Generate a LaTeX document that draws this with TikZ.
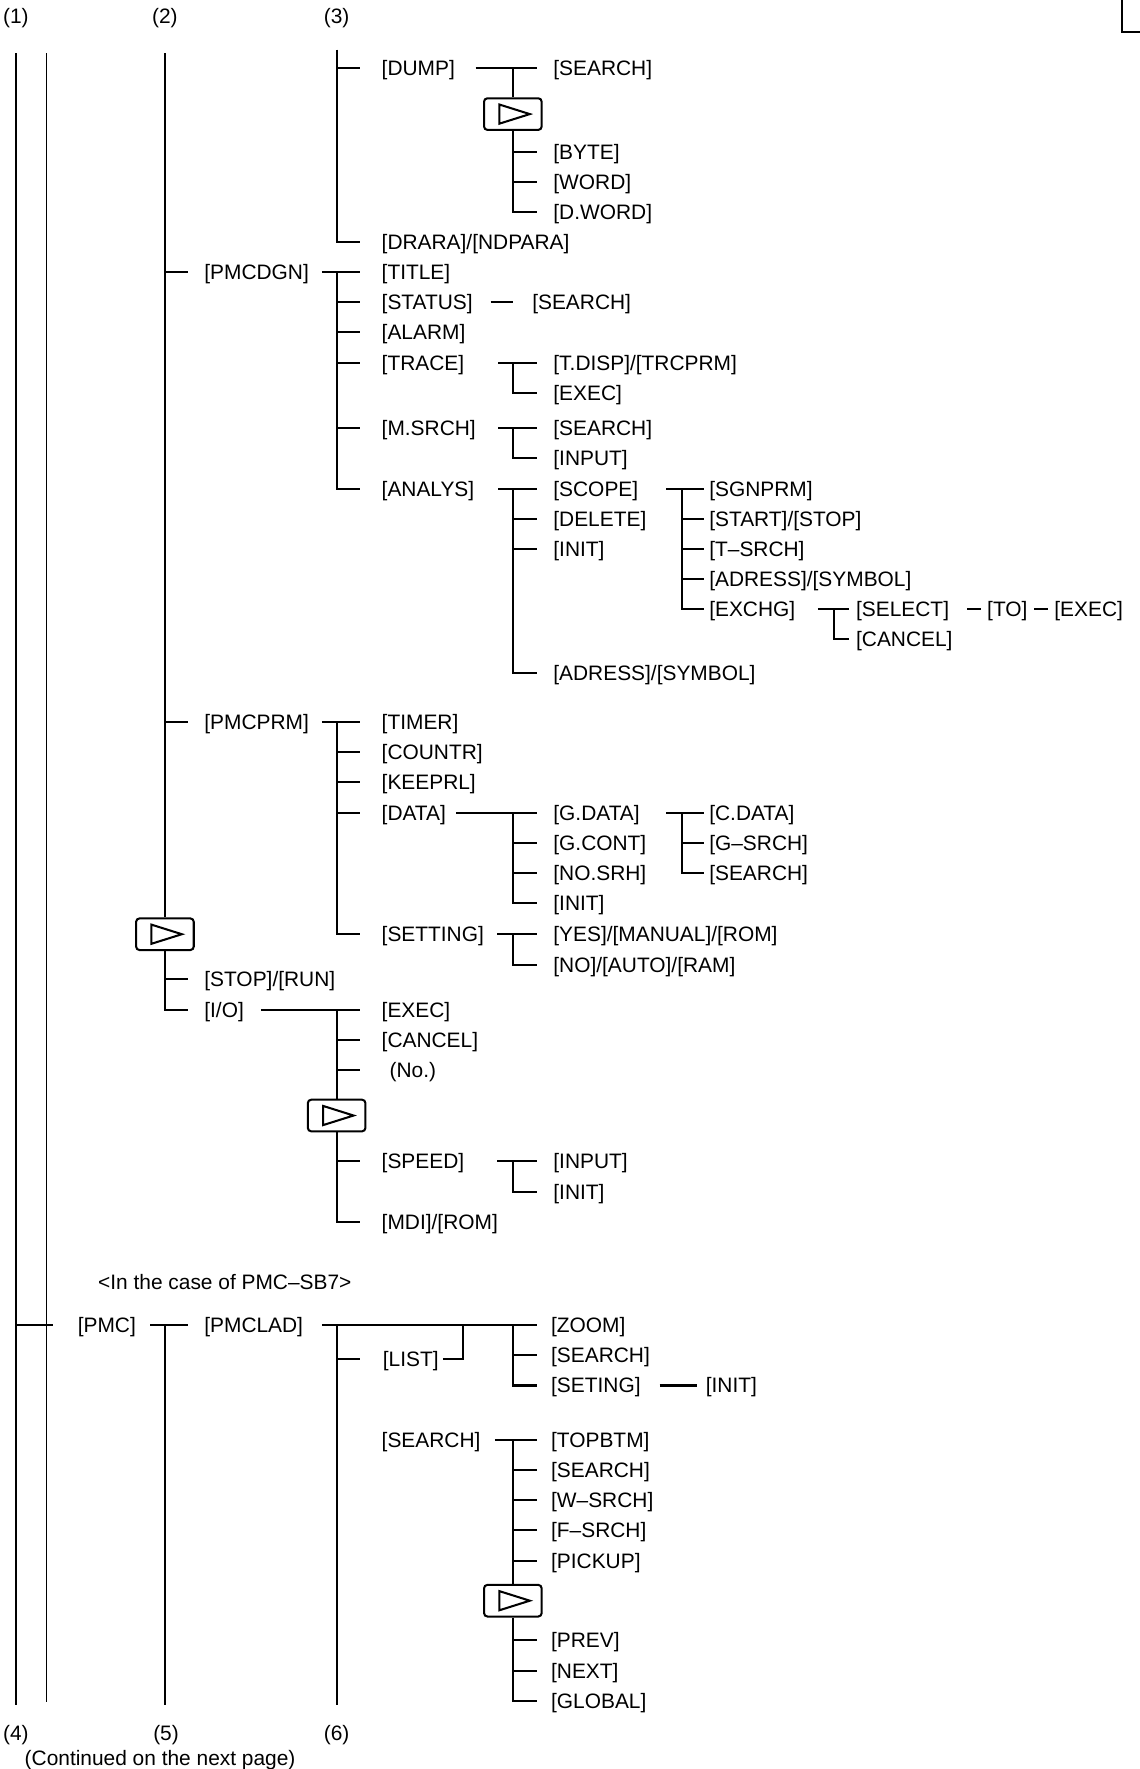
\documentclass[tikz,border=0pt]{standalone}
\usepackage{fontspec}
\setmainfont{Liberation Sans}
\usepackage{tikz}
\usetikzlibrary{positioning}

\begin{document}
\begin{tikzpicture}[x=1pt,y=-1pt,line width=1.8pt,font=\fontsize{18.5}{22}\selectfont]
  \tikzset{entry/.style={anchor=west, inner sep=0pt, text height=13.2pt, text depth=0pt},
           colno/.style={inner sep=0pt, text height=13.2pt, text depth=0pt},
           nextkey/.style={draw, rounded corners=3pt, minimum width=51pt, minimum height=28pt, inner sep=0pt,
             path picture={\draw[sharp corners, line width=1.8pt]
               ([xshift=-12pt,yshift=8.5pt]path picture bounding box.center) --
               ([xshift=15pt]path picture bounding box.center) --
               ([xshift=-12pt,yshift=-8.5pt]path picture bounding box.center) -- cycle;}}}
  \useasboundingbox (0,0) rectangle (1009,1566);

  \node[colno] (n1) at (14,14) {(1)};
  \node[colno] (n2) at (146,14) {(2)};
  \node[colno] (n3) at (298,14) {(3)};
  \node[colno] (n4) at (14,1534) {(4)};
  \node[colno] (n5) at (147,1534) {(5)};
  \node[colno] (n6) at (298,1534) {(6)};
  \node[entry] (cont) at (21,1556) {(Continued on the next page)};

  \coordinate (r1) at (14,47);
  \coordinate (r1e) at (14,1509);
  \coordinate (r2) at (41,47);
  \coordinate (r2e) at (41,1507);
  \coordinate (r3) at (146,47);
  \coordinate (r4) at (298,44);
  \coordinate (r5e) at (146,1509);
  \coordinate (r6e) at (298,1509);
  \coordinate (b4) at (454,0);
  \coordinate (b5) at (604,0);
  \coordinate (b6) at (738,0);
  \coordinate (lj) at (410,0);

  % dump
  \node[entry] (dump) at (337,60) {[DUMP]};
  \node[entry] (dsearch) at (489,60) {[SEARCH]};
  \node[nextkey] (sk1) at (454,101) {};
  \node[entry] (byte) at (489,134.5) {[BYTE]};
  \node[entry] (word) at (489,161) {[WORD]};
  \node[entry] (dword) at (489,187.5) {[D.WORD]};
  \node[entry] (drara) at (337,214) {[DRARA]/[NDPARA]};

  % pmcdgn
  \node[entry] (pmcdgn) at (180,241) {[PMCDGN]};
  \node[entry] (title) at (337,241) {[TITLE]};
  \node[entry] (status) at (337,267.5) {[STATUS]};
  \node[entry, right=51pt of status] (stsearch) {[SEARCH]};
  \node[entry] (alarm) at (337,294) {[ALARM]};
  \node[entry] (trace) at (337,321) {[TRACE]};
  \node[entry] (tdisp) at (489,321) {[T.DISP]/[TRCPRM]};
  \node[entry] (texec) at (489,347.5) {[EXEC]};
  \node[entry] (msrch) at (337,379) {[M.SRCH]};
  \node[entry] (mssearch) at (489,379) {[SEARCH]};
  \node[entry] (msinput) at (489,405.5) {[INPUT]};
  \node[entry] (analys) at (337,433) {[ANALYS]};
  \node[entry] (scope) at (489,433) {[SCOPE]};
  \node[entry] (delete) at (489,459.5) {[DELETE]};
  \node[entry] (ainit) at (489,486) {[INIT]};
  \node[entry] (aadress) at (489,596) {[ADRESS]/[SYMBOL]};
  \node[entry] (sgnprm) at (627,433) {[SGNPRM]};
  \node[entry] (startstop) at (627,459.5) {[START]/[STOP]};
  \node[entry] (tsrch) at (627,486) {[T–SRCH]};
  \node[entry] (sadress) at (627,512.5) {[ADRESS]/[SYMBOL]};
  \node[entry] (exchg) at (627,539) {[EXCHG]};
  \node[entry] (select) at (757,539) {[SELECT]};
  \node[entry] (xcancel) at (757,565.5) {[CANCEL]};
  \node[entry, right=32pt of select] (to) {[TO]};
  \node[entry, right=22pt of to] (xexec) {[EXEC]};

  % pmcprm
  \node[entry] (pmcprm) at (180,639) {[PMCPRM]};
  \node[entry] (timer) at (337,639) {[TIMER]};
  \node[entry] (countr) at (337,666) {[COUNTR]};
  \node[entry] (keeprl) at (337,692.5) {[KEEPRL]};
  \node[entry] (data) at (337,719.5) {[DATA]};
  \node[entry] (gdata) at (489,719.5) {[G.DATA]};
  \node[entry] (gcont) at (489,746) {[G.CONT]};
  \node[entry] (nosrh) at (489,773) {[NO.SRH]};
  \node[entry] (dinit) at (489,799.5) {[INIT]};
  \node[entry] (cdata) at (627,719.5) {[C.DATA]};
  \node[entry] (gsrch) at (627,746) {[G–SRCH]};
  \node[entry] (gsearch) at (627,773) {[SEARCH]};
  \node[entry] (setting) at (337,827) {[SETTING]};
  \node[entry] (yes) at (489,827) {[YES]/[MANUAL]/[ROM]};
  \node[entry] (noauto) at (489,854) {[NO]/[AUTO]/[RAM]};

  % next page of keys
  \node[nextkey] (sk2) at (146,827) {};
  \node[entry] (stoprun) at (180,867) {[STOP]/[RUN]};
  \node[entry] (io) at (180,894) {[I/O]};
  \node[entry] (ioexec) at (337,894) {[EXEC]};
  \node[entry] (iocancel) at (337,920.5) {[CANCEL]};
  \node[entry] (iono) at (344,947) {(No.)};
  \node[nextkey] (sk3) at (298,987.5) {};
  \node[entry] (speed) at (337,1028) {[SPEED]};
  \node[entry] (spinput) at (489,1028) {[INPUT]};
  \node[entry] (spinit) at (489,1055) {[INIT]};
  \node[entry] (mdirom) at (337,1082) {[MDI]/[ROM]};

  % pmc-sb7
  \node[entry] (sb7) at (86,1135) {<In the case of PMC–SB7>};
  \node[entry] (pmc) at (68,1173) {[PMC]};
  \node[entry] (pmclad) at (180,1173) {[PMCLAD]};
  \node[entry] (list) at (338,1203) {[LIST]};
  \node[entry] (zoom) at (487,1173) {[ZOOM]};
  \node[entry] (lsearch) at (487,1199.5) {[SEARCH]};
  \node[entry] (seting) at (487,1226.5) {[SETING]};
  \node[entry, right=56pt of seting] (sinit) {[INIT]};
  \node[entry] (ssearch) at (337,1274.5) {[SEARCH]};
  \node[entry] (topbtm) at (487,1274.5) {[TOPBTM]};
  \node[entry] (ssearch2) at (487,1301) {[SEARCH]};
  \node[entry] (wsrch) at (487,1328) {[W–SRCH]};
  \node[entry] (fsrch) at (487,1354.5) {[F–SRCH]};
  \node[entry] (pickup) at (487,1381.5) {[PICKUP]};
  \node[nextkey] (sk4) at (454,1417) {};
  \node[entry] (prev) at (487,1451.5) {[PREV]};
  \node[entry] (next) at (487,1479) {[NEXT]};
  \node[entry] (global) at (487,1506) {[GLOBAL]};

  % rails
  \draw (r1) -- (r1e);
  \draw[line width=1.4pt] (r2) -- (r2e);
  \draw (r3) -- (sk2.north);
  \draw (sk2.south) -- (r3 |- io) -- ++(20,0);
  \draw (r3 |- pmcdgn) -- ++(20,0);
  \draw (r3 |- pmcprm) -- ++(20,0);
  \draw (r3 |- stoprun) -- ++(20,0);
  \draw (r4) -- (r4 |- drara) -- ++(21,0);
  \draw (r4 |- dump) -- ++(21,0);

  \draw (b4 |- dsearch) ++(-33,0) -- ++(54,0);
  \draw (b4 |- dsearch) -- (sk1.north);
  \draw (sk1.south) -- (b4 |- dword) -- ++(21,0);
  \draw (b4 |- byte) -- ++(21,0);
  \draw (b4 |- word) -- ++(21,0);

  \draw (r4 |- title) ++(-13,0) -- ++(34,0);
  \draw (r4 |- title) -- (r4 |- analys) -- ++(21,0);
  \draw (r4 |- status) -- ++(21,0);
  \draw (r4 |- alarm) -- ++(21,0);
  \draw (r4 |- trace) -- ++(21,0);
  \draw (r4 |- msrch) -- ++(21,0);
  \draw ([xshift=15pt]status.east) -- ++(20,0);

  \draw (b4 |- tdisp) ++(-13,0) -- ++(34,0);
  \draw (b4 |- tdisp) -- (b4 |- texec) -- ++(21,0);
  \draw (b4 |- mssearch) ++(-13,0) -- ++(34,0);
  \draw (b4 |- mssearch) -- (b4 |- msinput) -- ++(21,0);
  \draw (b4 |- scope) ++(-13,0) -- ++(34,0);
  \draw (b4 |- scope) -- (b4 |- aadress) -- ++(21,0);
  \draw (b4 |- delete) -- ++(21,0);
  \draw (b4 |- ainit) -- ++(21,0);

  \draw (b5 |- sgnprm) ++(-14,0) -- ++(33,0);
  \draw (b5 |- sgnprm) -- (b5 |- exchg) -- ++(19,0);
  \draw (b5 |- startstop) -- ++(19,0);
  \draw (b5 |- tsrch) -- ++(19,0);
  \draw (b5 |- sadress) -- ++(19,0);

  \draw (b6 |- select) ++(-14,0) -- ++(28,0);
  \draw (b6 |- select) -- (b6 |- xcancel) -- ++(14,0);
  \draw ([xshift=15pt]select.east) -- ++(12,0);
  \draw ([xshift=5pt]to.east) -- ++(12,0);

  \draw (r4 |- timer) ++(-13,0) -- ++(34,0);
  \draw (r4 |- timer) -- (r4 |- setting) -- ++(21,0);
  \draw (r4 |- countr) -- ++(21,0);
  \draw (r4 |- keeprl) -- ++(21,0);
  \draw (r4 |- data) -- ++(21,0);

  \draw (b4 |- gdata) ++(-50,0) -- ++(71,0);
  \draw (b4 |- gdata) -- (b4 |- dinit) -- ++(21,0);
  \draw (b4 |- gcont) -- ++(21,0);
  \draw (b4 |- nosrh) -- ++(21,0);
  \draw (b5 |- cdata) ++(-14,0) -- ++(33,0);
  \draw (b5 |- cdata) -- (b5 |- gsearch) -- ++(19,0);
  \draw (b5 |- gsrch) -- ++(19,0);
  \draw (b4 |- yes) ++(-14,0) -- ++(35,0);
  \draw (b4 |- yes) -- (b4 |- noauto) -- ++(21,0);

  \draw (r4 |- ioexec) ++(-67,0) -- ++(88,0);
  \draw (r4 |- ioexec) -- (sk3.north);
  \draw (sk3.south) -- (r4 |- mdirom) -- ++(21,0);
  \draw (r4 |- iocancel) -- ++(21,0);
  \draw (r4 |- iono) -- ++(21,0);
  \draw (r4 |- speed) -- ++(21,0);
  \draw (b4 |- spinput) ++(-14,0) -- ++(35,0);
  \draw (b4 |- spinput) -- (b4 |- spinit) -- ++(21,0);

  \draw (r1 |- pmc) -- ([xshift=-21pt]pmc.west);
  \draw (r3 |- pmclad) ++(-13,0) -- ++(33,0);
  \draw (r3 |- pmclad) -- (r5e);
  \draw (r4 |- zoom) ++(-13,0) -- (b4 |- zoom) -- ++(21,0);
  \draw (r4 |- zoom) -- (r6e);
  \draw (r4 |- list) -- ++(21,0);
  \draw ([xshift=3pt]list.east) -| (lj |- zoom);
  \draw (b4 |- zoom) -- (b4 |- seting) -- ++(21,0);
  \draw (b4 |- lsearch) -- ++(21,0);
  \draw ([xshift=-40pt]sinit.west) -- ++(33,0);

  \draw (b4 |- topbtm) ++(-16,0) -- ++(37,0);
  \draw (b4 |- topbtm) -- (sk4.north);
  \draw (sk4.south) -- (b4 |- global) -- ++(21,0);
  \draw (b4 |- ssearch2) -- ++(21,0);
  \draw (b4 |- wsrch) -- ++(21,0);
  \draw (b4 |- fsrch) -- ++(21,0);
  \draw (b4 |- pickup) -- ++(21,0);
  \draw (b4 |- prev) -- ++(21,0);
  \draw (b4 |- next) -- ++(21,0);

  \draw (993,-2) -- (993,28) -- (1012,28);
\end{tikzpicture}
\end{document}
